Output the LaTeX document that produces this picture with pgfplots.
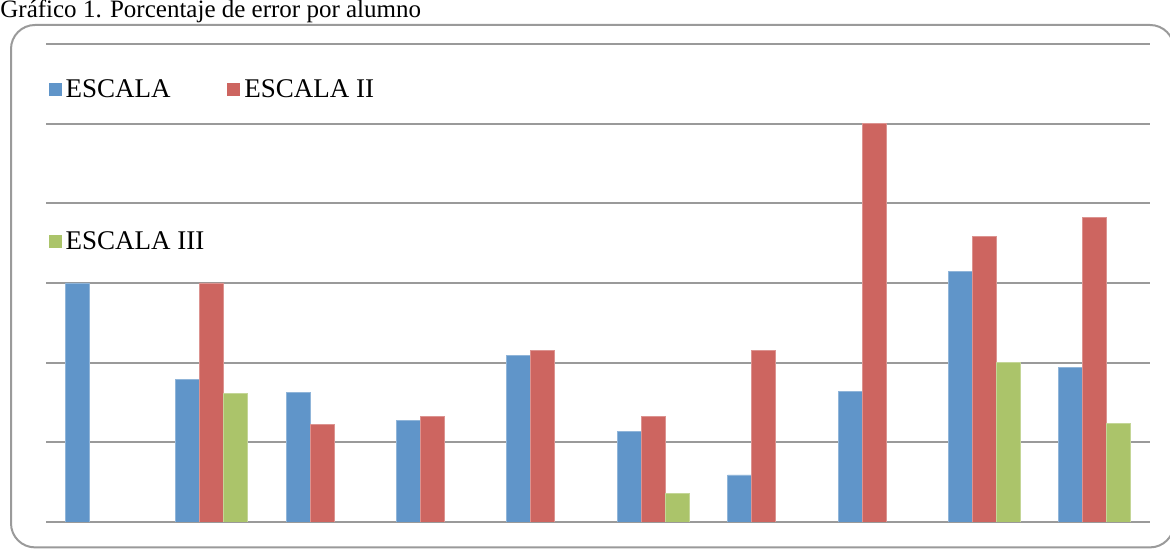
\documentclass[border=0pt]{standalone}
\usepackage{pgfplots}
\pgfplotsset{compat=1.18}
\usepackage{fontspec}
\setmainfont{Liberation Serif}
\definecolor{cblue}{HTML}{6095C9}
\definecolor{cred}{HTML}{CD6560}
\definecolor{cgreen}{HTML}{ABC46A}
\definecolor{cgrid}{HTML}{9A9A9A}
\begin{document}
\begin{tikzpicture}[x=1pt,y=1pt]
\useasboundingbox (0,0) rectangle (585,274.5);
\clip (0,0) rectangle (585,274.5);
\node[anchor=base west, font=\fontsize{12.5}{14}\selectfont, inner sep=0pt] at (0,265.5) {Gráfico 1. Porcentaje de error por alumno};
\draw[cgrid, line width=1pt, rounded corners=12pt] (5.5,0.8) rectangle (587,262);
\begin{axis}[
  at={(23pt,13.5pt)}, anchor=south west, scale only axis,
  width=552pt, height=239pt,
  ybar=0pt, bar width=12pt,
  ymin=0, ymax=6, xmin=0.5, xmax=10.5,
  ytick={0,1,2,3,4,5,6}, yticklabels={}, xtick=\empty,
  ymajorgrids, grid style={color=cgrid, line width=1pt},
  axis line style={draw=none}, major tick length=0pt,
  legend columns=2,
  legend cell align=left,
  legend image code/.code={\draw[#1,draw=none] (0pt,-3.25pt) rectangle (6.5pt,3.25pt);},
  legend style={draw=none, fill=none, at={(axis description cs:0.002,0.935)}, anchor=north west,
    inner sep=0pt, font=\fontsize{13.5}{16}\selectfont,
    /tikz/every even column/.append style={column sep=9.5pt},
    row sep=61.5pt},
]
\addplot[fill=cblue, draw=cblue!70!white, line width=0.4pt] coordinates {(1,3.0)(2,1.79)(3,1.63)(4,1.28)(5,2.09)(6,1.14)(7,0.59)(8,1.64)(9,3.14)(10,1.94)};
\addplot[fill=cred, draw=cred!70!white, line width=0.4pt] coordinates {(2,3.0)(3,1.23)(4,1.33)(5,2.15)(6,1.33)(7,2.15)(8,5.0)(9,3.58)(10,3.82)};
\addplot[fill=cgreen, draw=cgreen!70!white, line width=0.4pt] coordinates {(2,1.61)(6,0.36)(9,2.0)(10,1.24)};
\legend{ESCALA, ESCALA II, ESCALA III}
\end{axis}
\end{tikzpicture}
\end{document}
